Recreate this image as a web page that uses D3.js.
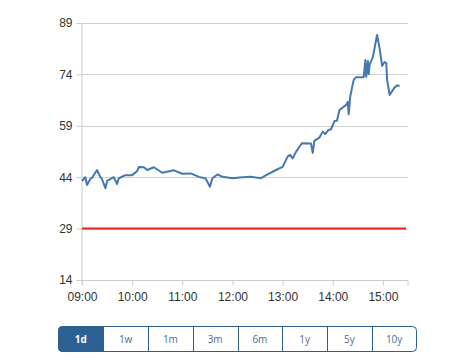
<!DOCTYPE html>
<html>
<head>
<meta charset="utf-8">
<script src="https://cdn.jsdelivr.net/npm/d3@7"></script>
<style>
  body { margin: 0; background: #fff; }
  svg { display: block; font-family: "Open Sans", "DejaVu Sans", sans-serif; }
</style>
</head>
<body>
<svg id="chart"></svg>
<script>
// price data (time of day, value)
const times = ["09:00","09:04","09:06","09:10","09:12","09:18","09:19","09:22","09:24","09:28","09:30","09:38","09:42","09:44","09:52","10:00","10:06","10:08","10:14","10:18","10:26","10:36","10:50","11:00","11:10","11:20","11:28","11:33","11:36","11:42","11:48","12:00","12:12","12:22","12:34","12:42","12:52","13:00","13:06","13:09","13:12","13:16","13:23","13:34","13:36","13:38","13:44","13:48","13:51","13:55","13:58","14:02","14:05","14:08","14:16","14:18","14:19","14:21","14:25","14:28","14:37","14:39","14:40","14:42","14:43","14:44","14:48","14:53","14:56","14:59","15:02","15:04","15:05","15:08","15:14","15:17","15:20"];
const prices = [42.9,44.0,41.7,43.5,43.8,46.1,45.5,44.1,43.4,40.8,42.9,44.0,42.0,43.7,44.6,44.6,45.8,47.0,46.9,46.1,46.9,45.3,46.0,45.0,45.1,44.1,43.6,41.2,43.7,44.8,44.1,43.7,44.0,44.1,43.7,44.8,46.1,47.0,50.0,50.5,49.5,51.4,53.9,53.8,51.1,54.6,55.6,57.3,56.6,57.8,58.0,60.4,60.5,63.6,65.1,66.0,62.4,67.7,72.4,73.2,73.2,78.2,73.3,77.9,74.1,76.7,79.1,85.5,81.7,76.5,77.6,77.3,72.4,68.0,70.2,70.8,70.6];

const yTicks = [14, 29, 44, 59, 74, 89];
const xTicks = ["09:00","10:00","11:00","12:00","13:00","14:00","15:00"];
const refLevel = 29;
const ranges = ["1d","1w","1m","3m","6m","1y","5y","10y"];
const activeRange = "1d";

const width = 473, height = 363;
const parseTime = d3.timeParse("%H:%M");
const data = times.map((t, i) => ({ date: parseTime(t), value: prices[i] }));

const svg = d3.select("#chart").attr("width", width).attr("height", height);

const x = d3.scaleTime()
    .domain([parseTime("09:00"), parseTime("15:30")])
    .range([82, 408]);
const y = d3.scaleLinear()
    .domain([14, 89])
    .range([280, 23]);

// gridlines
svg.append("g")
    .selectAll("line")
    .data(yTicks.filter(d => d !== 14))
    .join("line")
    .attr("x1", 82).attr("x2", 408)
    .attr("y1", d => Math.round(y(d)) + 0.5).attr("y2", d => Math.round(y(d)) + 0.5)
    .attr("stroke", "#d0d0d0");

// y axis
const yAxis = svg.append("g")
    .attr("transform", "translate(81.5,0)")
    .call(d3.axisLeft(y).tickValues(yTicks).tickSize(5).tickPadding(4).tickFormat(d3.format("d")));
yAxis.select(".domain").attr("stroke", "#ccc");
yAxis.selectAll(".tick line").attr("stroke", "#ccc");
yAxis.selectAll(".tick text").attr("fill", "#333").style("font-size", "12px");

// x axis
const xAxis = svg.append("g")
    .attr("transform", "translate(0,280.5)")
    .call(d3.axisBottom(x).tickValues(xTicks.map(parseTime)).tickSize(5).tickPadding(7).tickFormat(d3.timeFormat("%H:%M")));
xAxis.select(".domain").attr("stroke", "#ccc").attr("d", "M82,5V0H408V5");
xAxis.selectAll(".tick line").attr("stroke", "#ccc");
xAxis.selectAll(".tick text").attr("fill", "#333").style("font-size", "12px");

// reference line
svg.append("line")
    .attr("x1", 82).attr("x2", 406)
    .attr("y1", y(refLevel)).attr("y2", y(refLevel))
    .attr("stroke", "#e8221c")
    .attr("stroke-width", 2);

// price line
const line = d3.line()
    .x(d => x(d.date))
    .y(d => y(d.value));
svg.append("path")
    .datum(data)
    .attr("fill", "none")
    .attr("stroke", "#4577b0")
    .attr("stroke-width", 2)
    .attr("stroke-linejoin", "round")
    .attr("d", line);

// range selector buttons
const bx = d3.scaleBand().domain(ranges).range([58.5, 416.5]);
const btn = svg.append("g");
btn.append("rect")
    .attr("x", 58.5).attr("y", 326.5)
    .attr("width", 358).attr("height", 25)
    .attr("rx", 4)
    .attr("fill", "#fff")
    .attr("stroke", "#2c5e8e");
btn.append("path")
    .attr("d", `M${bx(activeRange) + bx.bandwidth()},326.5H${bx(activeRange) + 4}a4,4 0 0 0 -4,4V347.5a4,4 0 0 0 4,4H${bx(activeRange) + bx.bandwidth()}Z`)
    .attr("fill", "#2d6193")
    .attr("stroke", "#2c5e8e");
btn.selectAll("line.div")
    .data(ranges.slice(1))
    .join("line")
    .attr("class", "div")
    .attr("x1", d => Math.round(bx(d)) + 0.5).attr("x2", d => Math.round(bx(d)) + 0.5)
    .attr("y1", 326.5).attr("y2", 351.5)
    .attr("stroke", "#2c5e8e");
btn.selectAll("text")
    .data(ranges)
    .join("text")
    .attr("x", d => bx(d) + bx.bandwidth() / 2)
    .attr("y", 343)
    .attr("text-anchor", "middle")
    .style("font-size", "10px")
    .style("font-weight", d => d === activeRange ? "bold" : "normal")
    .attr("fill", d => d === activeRange ? "#fff" : "#4a6f96")
    .text(d => d);
</script>
</body>
</html>
